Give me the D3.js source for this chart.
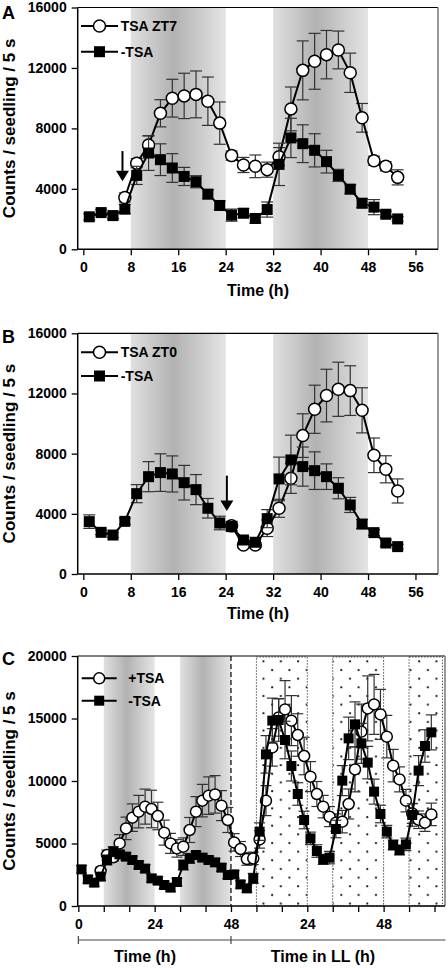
<!DOCTYPE html>
<html><head><meta charset="utf-8">
<script src="https://cdn.jsdelivr.net/npm/d3@7/dist/d3.min.js"></script>
<style>body{margin:0;background:#fff}svg{display:block;font-family:"Liberation Sans",Arial,sans-serif;font-weight:bold}</style>
</head><body>
<script>
// ---------- DATA ----------
const timeA = d3.range(1, 54, 2);
const minusA = [2150,2430,2230,2660,4890,6370,5930,5380,4820,4470,3650,2900,2260,2390,2040,2630,5620,7370,6990,6550,5800,4890,3980,3050,2790,2320,2010];
const minusAErr = [200,200,200,300,600,1150,1050,950,600,400,300,300,400,300,300,500,1400,1300,1250,1100,750,400,300,300,500,200,150];
const timeTsaA = d3.range(7, 54, 2);
const tsaA = [3430,5700,6900,9000,10000,10150,10250,9800,8350,6200,5580,5490,5270,6130,9290,11840,12440,12880,13190,11680,8700,5860,5490,4760];
const tsaAErr = [300,300,600,900,1250,1500,1550,1600,1400,300,500,750,500,600,1450,1950,1850,1600,1250,1300,950,300,300,500];

const timeB = d3.range(1, 54, 2);
const minusB = [3480,2770,2590,3500,5340,6470,6740,6650,6070,5610,4370,3390,3150,2260,2110,3680,6320,7580,7140,6870,6470,5700,4590,3320,2750,2060,1820];
const minusBErr = [450,150,150,200,600,1000,1250,1200,1150,1000,650,450,300,200,200,600,1450,1650,1300,1250,850,700,500,300,200,200,150];
const timeTsaB = d3.range(25, 54, 2);
const tsaB = [3200,1930,1930,3040,4370,6360,9200,10950,11860,12280,12190,10880,7890,6960,5520];
const tsaBErr = [300,150,150,550,600,1000,1450,1600,1750,1800,1650,1500,1150,900,800];

const timeC = d3.range(1, 112, 2);
const minusC = [2930,2130,1870,2350,3680,4350,4130,3950,3680,3280,2990,2210,2030,1680,1470,1920,3280,3810,4080,3870,3680,3490,3070,2480,2530,1730,1410,2210,5950,12130,14830,14880,13280,11200,8960,6880,5410,4400,3730,3870,6160,10030,13410,14530,13010,11470,9150,7360,5950,4880,4480,4930,7280,10830,12800,13890];
const minusCErr = [300,300,300,300,400,400,300,300,300,300,300,300,300,300,300,300,400,400,300,300,300,300,300,300,300,300,300,400,700,1500,1800,1700,1500,1200,900,700,500,500,400,500,700,1200,1700,1800,1600,1300,1000,700,500,400,400,500,900,1200,1300,1400];
const timePlusC = d3.range(7, 112, 2);
const plusC = [2800,4080,3900,5010,6210,7070,7550,7950,7760,7200,5870,5010,4610,4750,6080,7550,8430,8830,8930,8030,6880,5090,4560,3760,3810,5330,8430,12690,15090,15730,14830,13680,12000,10350,8960,7950,7150,6670,6750,8160,10930,13950,15810,16130,15330,13550,11230,10130,8430,7410,6900,6670,7330];
const plusCErr = [300,400,300,700,900,1100,1300,1400,1500,1100,1000,800,700,700,1000,1200,1300,1500,1500,1200,1000,700,600,500,500,700,1200,1500,1500,2300,2000,1700,1500,1200,1000,900,800,700,900,1200,1800,2200,2600,2400,2000,1700,1300,1000,900,800,700,700,900];

const ticksAB_x = [0,8,16,24,32,40,48,56];
const ticksAB_y = [0,4000,8000,12000,16000];
const ticksC_y = [0,5000,10000,15000,20000];
const ticksC_x = d3.range(0, 113, 8);
const labelsC_x = {0:"0",24:"24",48:"48",72:"24",96:"48"};
const darkAB = [[8,24],[32,48]];
const darkC = [[8,24],[32,48]];
const subjNightC = [[56,72],[80,96],[104,114.5]];
const arrowA = {t:6.6, from:6500, to:4500};
const arrowB = {t:24.2, from:6540, to:4190};

// ---------- DRAW ----------
const svg = d3.select("body").append("svg").attr("width",448).attr("height",968);
const defs = svg.append("defs");
const g = defs.append("linearGradient").attr("id","shade").attr("x1",0).attr("x2",1).attr("y1",0).attr("y2",0);
g.append("stop").attr("offset","0%").attr("stop-color","#e0e0e0");
g.append("stop").attr("offset","45%").attr("stop-color","#b2b2b2");
g.append("stop").attr("offset","100%").attr("stop-color","#e4e4e4");
const pat = defs.append("pattern").attr("id","dots").attr("patternUnits","userSpaceOnUse")
  .attr("width",17.3).attr("height",17.3).attr("x",0).attr("y",0);
pat.append("circle").attr("cx",4).attr("cy",4).attr("r",1.1).attr("fill","#111");
pat.append("circle").attr("cx",12.65).attr("cy",12.65).attr("r",1.1).attr("fill","#111");

function panel(o){
  const x = d3.scaleLinear().domain(o.xDomain).range([o.left,o.right]);
  const y = d3.scaleLinear().domain([0,o.yMax]).range([o.bottom,o.top]);
  const G = svg.append("g");
  // shading
  o.dark.forEach(([a,b])=>G.append("rect").attr("x",x(a)).attr("width",x(b)-x(a))
     .attr("y",o.top).attr("height",o.bottom-o.top).attr("fill","url(#shade)"));
  (o.stipple||[]).forEach(([a,b])=>{
    G.append("rect").attr("x",x(a)).attr("width",x(b)-x(a)).attr("y",o.top+1).attr("height",o.bottom-o.top-1)
     .attr("fill","url(#dots)").attr("stroke","#555").attr("stroke-width",1).attr("stroke-dasharray","1.5,1.5");
  });
  if(o.dashAt!=null) G.append("line").attr("x1",x(o.dashAt)).attr("x2",x(o.dashAt)).attr("y1",o.top).attr("y2",o.bottom)
     .attr("stroke","#000").attr("stroke-width",1.2).attr("stroke-dasharray","5,3");
  // frame
  G.append("line").attr("x1",o.left).attr("x2",o.right).attr("y1",o.top).attr("y2",o.top).attr("stroke","#000").attr("stroke-width",1.2);
  G.append("line").attr("x1",o.right).attr("x2",o.right).attr("y1",o.top).attr("y2",o.bottom).attr("stroke","#777").attr("stroke-width",1.5);
  // axes
  const ax = G.append("g").attr("transform",`translate(0,${o.bottom})`)
    .call(d3.axisBottom(x).tickValues(o.xTicks).tickSize(6).tickPadding(4).tickFormat(o.xFmt||(d=>d)));
  const ay = G.append("g").attr("transform",`translate(${o.left},0)`)
    .call(d3.axisLeft(y).tickValues(o.yTicks).tickSize(6).tickPadding(5).tickFormat(d=>d));
  [ax,ay].forEach(a=>{a.select(".domain").attr("stroke-width",1.5).attr("d",null);
    a.selectAll("text").attr("font-size",14).attr("font-weight","bold").attr("font-family","Liberation Sans, Arial").attr("fill","#000");
    a.selectAll("line").attr("stroke-width",1.3);});
  ax.select(".domain").remove(); ay.select(".domain").remove();
  G.append("line").attr("x1",o.left).attr("x2",o.right).attr("y1",o.bottom).attr("y2",o.bottom).attr("stroke","#000").attr("stroke-width",1.5);
  G.append("line").attr("x1",o.left).attr("x2",o.left).attr("y1",o.top).attr("y2",o.bottom).attr("stroke","#000").attr("stroke-width",1.5);
  ax.selectAll("text").attr("dy","0.9em");
  // series
  const errG = G.append("g"), lineG = G.append("g");
  o.series.forEach(s=>{
    const pts = s.t.map((t,i)=>({t, v:s.v[i], e:s.e[i]}));
    const eg = G.append("g").attr("stroke","#333").attr("stroke-width",1.2);
    pts.forEach(p=>{
      eg.append("line").attr("x1",x(p.t)).attr("x2",x(p.t)).attr("y1",y(p.v-p.e)).attr("y2",y(p.v+p.e));
      [p.v-p.e,p.v+p.e].forEach(v=>eg.append("line").attr("x1",x(p.t)-o.cap).attr("x2",x(p.t)+o.cap).attr("y1",y(v)).attr("y2",y(v)));
    });
    G.append("path").datum(pts).attr("fill","none").attr("stroke","#000").attr("stroke-width",2)
      .attr("d",d3.line().x(p=>x(p.t)).y(p=>y(p.v)));
    const mg = G.append("g");
    pts.forEach(p=>drawMarker(mg, s.type, x(p.t), y(p.v), o.ms));
  });
  // legend
  o.legend.forEach((l,i)=>{
    const ly = o.legY[i];
    G.append("line").attr("x1",o.legX0).attr("x2",o.legX1).attr("y1",ly).attr("y2",ly).attr("stroke","#000").attr("stroke-width",2);
    drawMarker(G, l.type, (o.legX0+o.legX1)/2, ly, o.ms);
    G.append("text").attr("x",o.legTx).attr("y",ly).attr("dy","0.36em").attr("font-size",14).text(l.label);
  });
  // arrow
  if(o.arrow){
    const ax0 = x(o.arrow.t), y0=y(o.arrow.from), y1=y(o.arrow.to);
    G.append("line").attr("x1",ax0).attr("x2",ax0).attr("y1",y0).attr("y2",y1-9).attr("stroke","#000").attr("stroke-width",2);
    G.append("path").attr("d",`M${ax0-6.5},${y1-10.5}L${ax0+6.5},${y1-10.5}L${ax0},${y1}Z`).attr("fill","#000");
  }
  // titles
  G.append("text").attr("x",o.letterX||2).attr("y",o.letterY).attr("font-size",18).text(o.letter);
  G.append("text").attr("transform",`translate(${o.yTitleX},${(o.top+o.bottom)/2}) rotate(-90)`)
    .attr("text-anchor","middle").attr("font-size",17).text("Counts / seedling / 5 s");
  return {x,y,G};
}
function drawMarker(g,type,cx,cy,ms){
  if(type==="circle") g.append("circle").attr("cx",cx).attr("cy",cy).attr("r",ms.r).attr("fill","#fff").attr("stroke","#000").attr("stroke-width",1.5);
  else g.append("rect").attr("x",cx-ms.s/2).attr("y",cy-ms.s/2).attr("width",ms.s).attr("height",ms.s).attr("fill","#000");
}

const pA = panel({left:77.7,right:438,top:7.5,bottom:249.3,xDomain:[-0.95,59.8],yMax:16000,
  xTicks:ticksAB_x,yTicks:ticksAB_y,dark:darkAB,cap:6,ms:{r:6,s:11},
  series:[{type:"circle",t:timeTsaA,v:tsaA,e:tsaAErr},{type:"square",t:timeA,v:minusA,e:minusAErr}],
  legend:[{type:"circle",label:"TSA ZT7"},{type:"square",label:"-TSA"}],legY:[26,51.7],legX0:81,legX1:118,legTx:120.7,
  arrow:arrowA,letter:"A",letterY:18.5,yTitleX:15});
pA.G.append("text").attr("x",258).attr("y",296).attr("text-anchor","middle").attr("font-size",16).text("Time (h)");

const pB = panel({left:77.7,right:438,top:333.3,bottom:574,xDomain:[-0.95,59.8],yMax:16000,
  xTicks:ticksAB_x,yTicks:ticksAB_y,dark:darkAB,cap:6,ms:{r:6,s:11},
  series:[{type:"circle",t:timeTsaB,v:tsaB,e:tsaBErr},{type:"square",t:timeB,v:minusB,e:minusBErr}],
  legend:[{type:"circle",label:"TSA ZT0"},{type:"square",label:"-TSA"}],legY:[352.3,376],legX0:81,legX1:118,legTx:120.7,
  arrow:arrowB,letter:"B",letterY:343,yTitleX:15});
pB.G.append("text").attr("x",258).attr("y",619).attr("text-anchor","middle").attr("font-size",16).text("Time (h)");

const pC = panel({left:77.7,right:445,top:656,bottom:906,xDomain:[-0.2,115.3],yMax:20000,
  xTicks:ticksC_x,xFmt:d=>labelsC_x[d]||"",yTicks:ticksC_y,dark:darkC,stipple:subjNightC,dashAt:48,cap:5.5,ms:{r:5.5,s:10},
  series:[{type:"circle",t:timePlusC,v:plusC,e:plusCErr},{type:"square",t:timeC,v:minusC,e:minusCErr}],
  legend:[{type:"circle",label:"+TSA"},{type:"square",label:"-TSA"}],legY:[678.3,700.7],legX0:81.7,legX1:116.7,legTx:128.3,
  letter:"C",letterY:665,yTitleX:15});
// secondary time bracket
const xc = pC.x;
pC.G.append("line").attr("x1",xc(0)).attr("x2",445.5).attr("y1",940).attr("y2",940).attr("stroke","#444").attr("stroke-width",1);
[0,48].forEach(t=>pC.G.append("line").attr("x1",xc(t)).attr("x2",xc(t)).attr("y1",936).attr("y2",944).attr("stroke","#444").attr("stroke-width",1.2));
pC.G.append("text").attr("x",145).attr("y",962).attr("text-anchor","middle").attr("font-size",16).text("Time (h)");
pC.G.append("text").attr("x",323).attr("y",962).attr("text-anchor","middle").attr("font-size",16).text("Time in LL (h)");
</script>
</body></html>
